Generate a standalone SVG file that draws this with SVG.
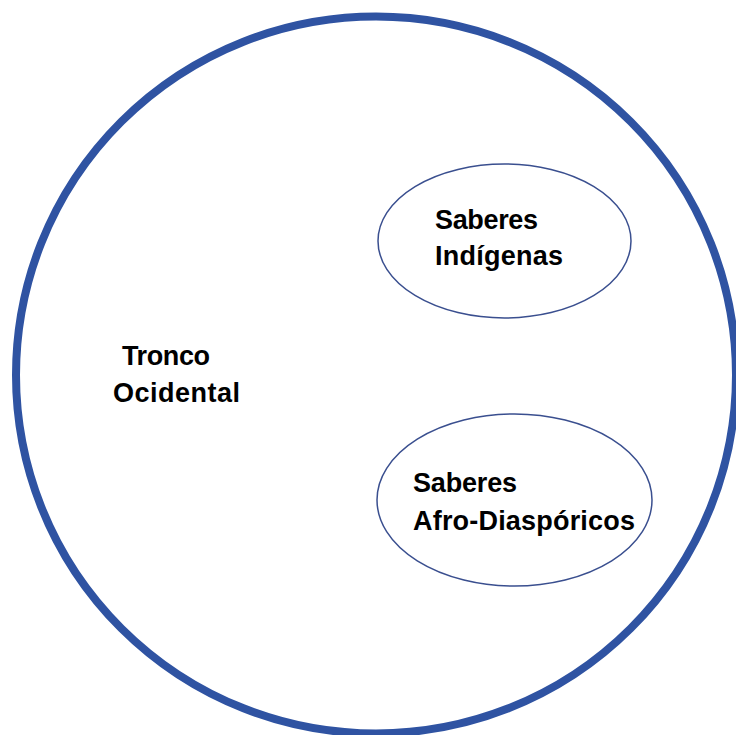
<svg xmlns="http://www.w3.org/2000/svg" width="736" height="735" viewBox="0 0 736 735">
<style>
.lbl{font-family:"Liberation Sans",Arial,sans-serif;font-weight:bold;font-size:27px;fill:#000}
.inner{fill:#fff;stroke:#3a4f8f;stroke-width:1.5}
</style>
<rect width="736" height="735" fill="#fff"/>
<g id="tronco-ocidental">
<ellipse cx="376" cy="375" rx="360" ry="358.5" fill="#fff" stroke="#2f53a2" stroke-width="8"/>
<text class="lbl" x="122" y="365" textLength="88">Tronco</text>
<text class="lbl" x="113" y="402" textLength="127">Ocidental</text>
</g>
<g id="saberes-indigenas">
<ellipse class="inner" cx="504.5" cy="241" rx="126.5" ry="77"/>
<text class="lbl" x="435" y="229" textLength="103">Saberes</text>
<text class="lbl" x="435" y="265" textLength="128">Indígenas</text>
</g>
<g id="saberes-afro">
<ellipse class="inner" cx="514.5" cy="500" rx="137.5" ry="86"/>
<text class="lbl" x="413" y="492" textLength="104">Saberes</text>
<text class="lbl" x="413" y="530" textLength="222">Afro-Diaspóricos</text>
</g>
<g id="connectors"/>
</svg>
